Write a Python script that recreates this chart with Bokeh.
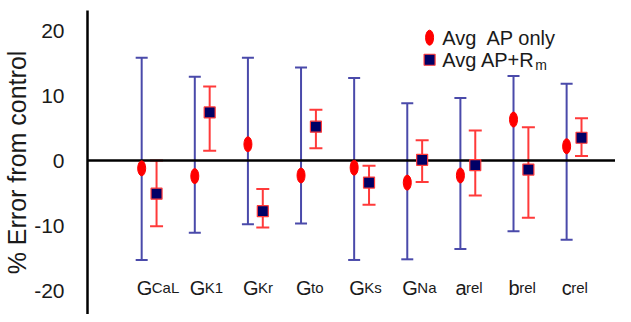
from bokeh.plotting import figure
from bokeh.models import ColumnDataSource, Range1d, FixedTicker, NumeralTickFormatter
from bokeh.core.properties import value
from bokeh.embed import file_html
from bokeh.resources import INLINE

# ---- data ----
param_main = ["G", "G", "G", "G", "G", "G", "a", "b", "c"]
param_sub = ["CaL", "K1", "Kr", "to", "Ks", "Na", "rel", "rel", "rel"]

ap_only = [-1.2, -2.4, 2.5, -2.3, -1.1, -3.4, -2.3, 6.3, 2.2]
ap_only_hi = [15.8, 12.9, 15.8, 14.3, 12.7, 8.8, 9.6, 13.0, 11.8]
ap_only_lo = [-15.3, -11.1, -9.8, -9.7, -15.3, -15.2, -13.6, -10.9, -12.2]

ap_rm = [-5.1, 7.4, -7.8, 5.2, -3.4, 0.1, -0.7, -1.4, 3.5]
ap_rm_hi = [0.0, 11.4, -4.4, 7.8, -0.8, 3.1, 4.6, 5.1, 6.5]
ap_rm_lo = [-10.1, 1.5, -10.3, 1.9, -6.8, -3.3, -5.4, -8.8, 0.7]

y_ticks = [-20, -10, 0, 10, 20]
legend_labels = ["Avg\u00a0 AP only", "Avg AP+R", "m"]

# ---- styles ----
FONT = value("Liberation Sans")
BLUE = "#4a4aaa"
RED_BAR = "#ff3a3a"
RED = "#ff0000"
NAVY = "#000066"
TXT = "#1a1a1a"
SERIES_SHIFT = 0.28

idx = list(range(len(param_main)))
idx2 = [i + SERIES_SHIFT for i in idx]

src1 = ColumnDataSource(dict(x=idx, y=ap_only, hi=ap_only_hi, lo=ap_only_lo))
src2 = ColumnDataSource(dict(x=idx2, y=ap_rm, hi=ap_rm_hi, lo=ap_rm_lo))

p = figure(width=615, height=314, output_backend="svg", toolbar_location=None,
           x_range=Range1d(-1.02, 8.92), y_range=Range1d(-23.69, 23.08),
           min_border_left=79, min_border_right=0, min_border_top=10,
           min_border_bottom=0)
p.xaxis.visible = False
p.xgrid.visible = False
p.ygrid.visible = False
p.outline_line_color = None
p.background_fill_color = "white"

ya = p.yaxis[0]
ya.ticker = FixedTicker(ticks=y_ticks)
ya.formatter = NumeralTickFormatter(format="0")
ya.axis_line_color = "black"
ya.axis_line_width = 2.5
ya.major_tick_line_color = None
ya.minor_tick_line_color = None
ya.major_label_text_font = "Liberation Sans"
ya.major_label_text_font_size = "21px"
ya.major_label_text_color = TXT
ya.major_label_standoff = 17
ya.axis_label = "% Error from control"
ya.axis_label_text_font = "Liberation Sans"
ya.axis_label_text_font_size = "25px"
ya.axis_label_text_font_style = "normal"
ya.axis_label_text_color = TXT
ya.axis_label_standoff = 0

# error bars: AP only (blue)
p.segment(x0="x", y0="lo", x1="x", y1="hi", source=src1, line_color=BLUE, line_width=2)
p.scatter("x", "hi", source=src1, marker="dash", size=12, line_color=BLUE, line_width=2)
p.scatter("x", "lo", source=src1, marker="dash", size=12, line_color=BLUE, line_width=2)
# error bars: AP+Rm (red)
p.segment(x0="x", y0="lo", x1="x", y1="hi", source=src2, line_color=RED_BAR, line_width=2)
p.scatter("x", "hi", source=src2, marker="dash", size=13, line_color=RED_BAR, line_width=2)
p.scatter("x", "lo", source=src2, marker="dash", size=13, line_color=RED_BAR, line_width=2)

# zero line
p.hspan(y=[0], line_color="black", line_width=2.5)

# markers
p.ellipse("x", "y", source=src1, width=8, height=15, width_units="screen",
          height_units="screen", fill_color=RED, line_color=RED)
p.scatter("x", "y", source=src2, marker="square", size=11, fill_color=NAVY,
          line_color=RED_BAR, line_width=1.2)

# category labels (main letter + subscript)
lab_y = -19.54
main_w = {"G": 0.778, "a": 0.556, "b": 0.556, "c": 0.5}
sub_off = [-5 + main_w[m] * 20 - 0.5 for m in param_main]
p.text(x=idx, y=[lab_y] * len(idx), text=param_main, x_offset=-5,
       text_font=FONT, text_font_size="20px", text_color=TXT,
       text_align="left", text_baseline="alphabetic")
p.text(x=idx, y=[lab_y] * len(idx), text=param_sub, x_offset=sub_off,
       text_font=FONT, text_font_size="15px", text_color=TXT,
       text_align="left", text_baseline="alphabetic")

# legend
lx, ltx = 5.42, 5.66
ly1, ly2 = 18.9, 15.5
p.ellipse(x=[lx], y=[ly1], width=8, height=15, width_units="screen",
          height_units="screen", fill_color=RED, line_color=RED)
p.scatter(x=[lx], y=[ly2], marker="square", size=11, fill_color=NAVY,
          line_color=RED_BAR, line_width=1.2)
p.text(x=[ltx], y=[ly1], text=[legend_labels[0]], text_font=FONT,
       text_font_size="20px", text_color=TXT, text_baseline="middle")
p.text(x=[ltx], y=[ly2], text=[legend_labels[1]], text_font=FONT,
       text_font_size="20px", text_color=TXT, text_baseline="middle")
p.text(x=[ltx], y=[ly2], text=[legend_labels[2]], x_offset=93, y_offset=5,
       text_font=FONT, text_font_size="14px", text_color=TXT,
       text_baseline="middle")

open("out.html", "w").write(file_html(p, INLINE))
